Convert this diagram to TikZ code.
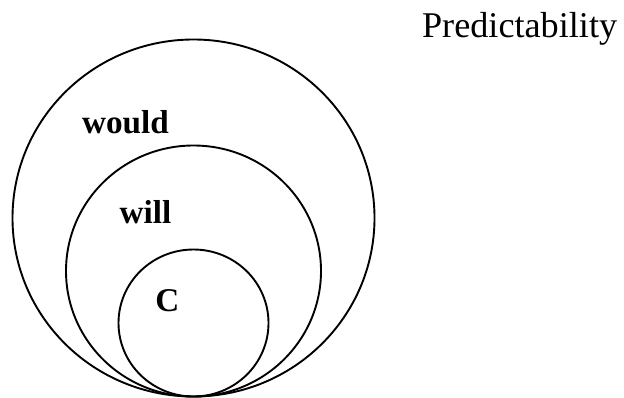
\documentclass[tikz,border=0pt]{standalone}
\usepackage{fontspec}
\setmainfont{Liberation Serif}
\usepackage{tikz}
\usetikzlibrary{positioning}

\tikzset{
  ring/.style={line width=0.95pt, black},
  modal/.style={font=\fontsize{16.6}{18}\selectfont\bfseries, anchor=base west, inner sep=0pt},
  heading/.style={font=\fontsize{18.1}{20}\selectfont, anchor=base west, inner sep=0pt}
}

\begin{document}
\begin{tikzpicture}[x=0.5pt, y=0.5pt]
  \useasboundingbox (0, 0) rectangle (624, 397);

  % nested sets, all touching at the bottom
  \draw[ring] (193.5, 179) ellipse [x radius=181, y radius=178.5];
  \draw[ring] (193.5, 126) ellipse [x radius=127.5, y radius=125.5];
  \draw[ring] (193.5, 74) ellipse [x radius=75, y radius=73.5];

  \node[modal] (would) at (81.7, 264) {would};
  \node[modal] (will) at (119.3, 174) {will};
  \node[modal] (c) at (155, 85.3) {C};

  \node[heading] (pred) at (421.7, 359) {Predictability};
\end{tikzpicture}
\end{document}
